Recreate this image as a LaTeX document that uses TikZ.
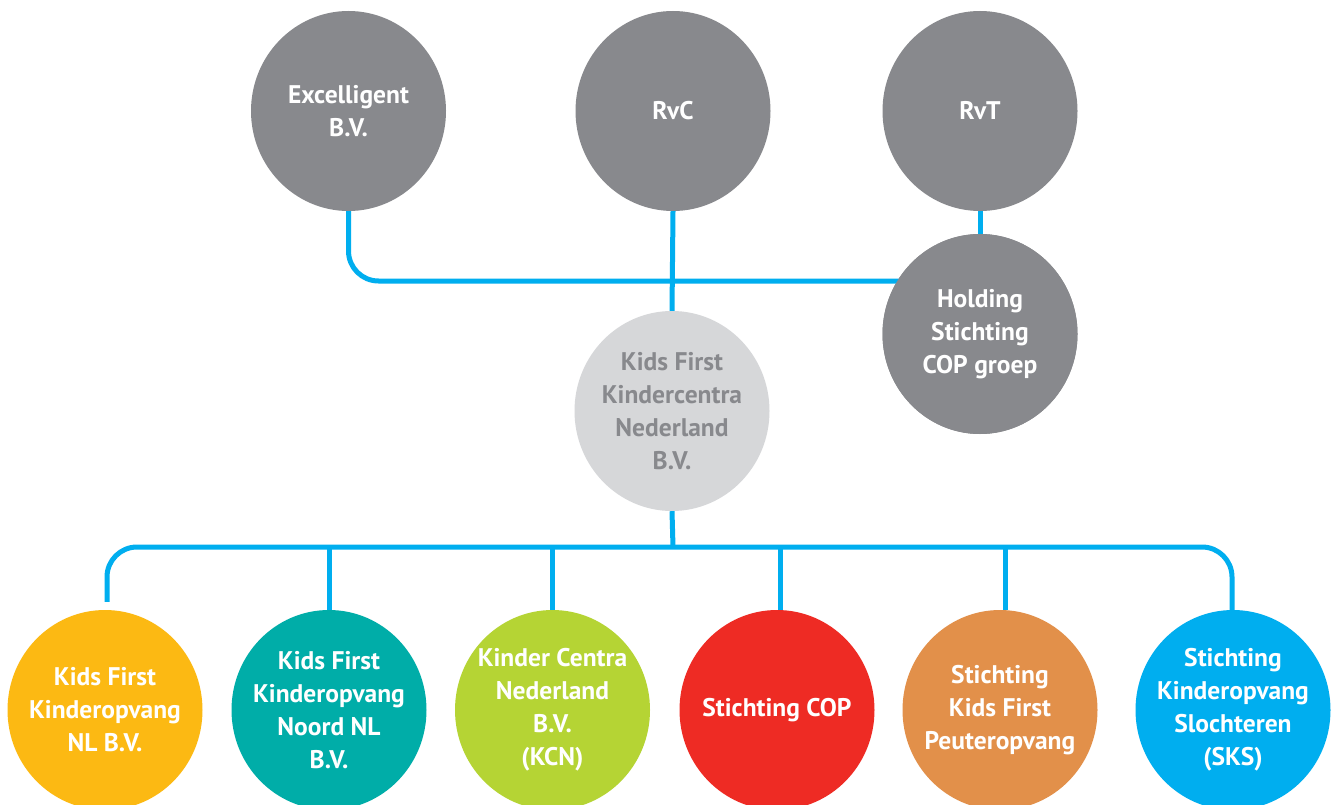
\documentclass[tikz,border=0pt]{standalone}
\usepackage{fontspec}
\setmainfont{PT Sans}
\usetikzlibrary{shapes.geometric}
\definecolor{linkblue}{RGB}{0,174,239}
\definecolor{darkgray}{RGB}{136,137,141}
\definecolor{lightgray}{RGB}{214,215,217}
\definecolor{cyellow}{RGB}{252,185,19}
\definecolor{cteal}{RGB}{0,173,168}
\definecolor{cgreen}{RGB}{181,212,52}
\definecolor{cred}{RGB}{238,43,36}
\definecolor{corange}{RGB}{226,144,74}
\definecolor{cblue}{RGB}{0,174,239}
\tikzset{
  disc/.style={ellipse, minimum width=195pt, minimum height=200pt, inner sep=-40pt,
    align=center, text=white, font=\bfseries\fontsize{25.5}{33}\selectfont},
  link/.style={draw=linkblue, line width=5pt},
}
\begin{document}
\begin{tikzpicture}[x=1pt,y=-1pt]
\clip (0,0) rectangle (1338,805);
\useasboundingbox (0,0) rectangle (1338,805);
\fill[white] (0,0) rectangle (1338,805);
% top row
\node[disc, fill=darkgray] (exc) at (348.5,111) {Excelligent\\B.V.};
\node[disc, fill=darkgray] (rvc) at (673,111) {RvC};
\node[disc, fill=darkgray] (rvt) at (980,111) {RvT};
\node[disc, fill=darkgray] (hold) at (980,334) {Holding\\Stichting\\COP groep};
\node[disc, fill=lightgray, text=darkgray] (kfk) at (672,411) {Kids First\\Kindercentra\\Nederland\\B.V.};
% bottom row
\node[disc, fill=cyellow] (k1) at (105,710) {Kids First\\Kinderopvang\\NL B.V.};
\node[disc, fill=cteal] (k2) at (329,710) {Kids First\\Kinderopvang\\Noord NL\\B.V.};
\node[disc, fill=cgreen] (k3) at (552.5,710) {Kinder Centra\\Nederland\\B.V.\\(KCN)};
\node[disc, fill=cred] (k4) at (777,710) {Stichting COP};
\node[disc, fill=corange] (k5) at (1000,710) {Stichting\\Kids First\\Peuteropvang};
\node[disc, fill=cblue] (k6) at (1233,710) {Stichting\\Kinderopvang\\Slochteren\\(SKS)};
% connectors
\coordinate (j1) at (905,281);
\coordinate (bus) at (673,547);
\draw[link, rounded corners=30pt] (exc.south) |- (j1);
\draw[link] (rvc.south) -- (kfk.north);
\draw[link] (rvt.south) -- (hold.north);
\draw[link] (kfk.south) -- (bus);
\draw[link, rounded corners=30pt] ([xshift=2pt,yshift=8pt]k1.north) |- (bus) -| ([xshift=-1pt]k6.north);
\draw[link] (k2.north) -- (k2.north |- bus);
\draw[link] (k3.north) -- (k3.north |- bus);
\draw[link] ([xshift=3pt]k4.north) -- ([xshift=3pt]k4.north |- bus);
\draw[link] ([xshift=5pt]k5.north) -- ([xshift=5pt]k5.north |- bus);
% redraw holding on top of its incoming line
\node[disc, fill=darkgray] at (hold) {Holding\\Stichting\\COP groep};
\end{tikzpicture}
\end{document}
